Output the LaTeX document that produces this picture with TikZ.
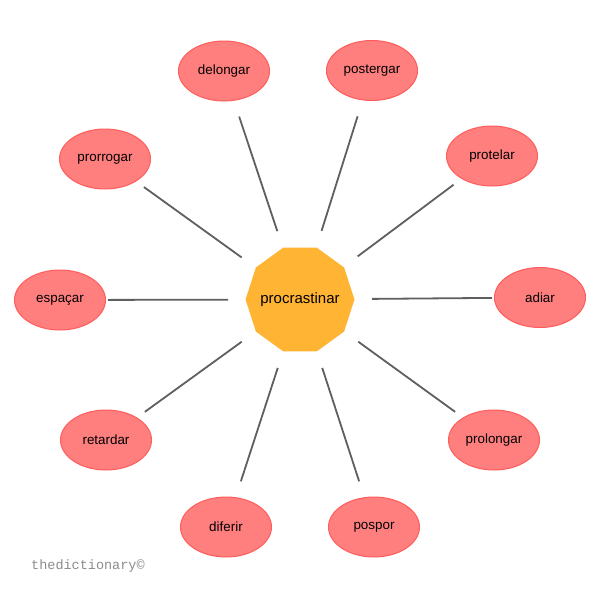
\documentclass[tikz,border=0pt]{standalone}
\usepackage{fontspec}
\setmainfont{Liberation Sans}
\newfontfamily\wmfont{Liberation Mono}
\usetikzlibrary{shapes.geometric}
\definecolor{leafFill}{HTML}{FF7F7F}
\definecolor{leafDraw}{HTML}{FF5C5C}
\definecolor{hubFill}{HTML}{FFB533}
\definecolor{linkCol}{HTML}{5F5F5F}
\definecolor{wmCol}{HTML}{8C8C8C}
\tikzset{
  leaf/.style={ellipse, fill=leafFill, draw=leafDraw, line width=1pt,
    minimum width=91pt, minimum height=60pt, inner sep=0pt,
    font=\fontsize{13.4pt}{15pt}\selectfont, text=black},
  hub/.style={regular polygon, regular polygon sides=10,
    fill=hubFill, draw=none, minimum size=109pt, inner sep=0pt},
  hubtext/.style={font=\fontsize{15pt}{17pt}\selectfont, text=black, inner sep=0pt},
  link/.style={draw=linkCol, line width=1.8pt, shorten <=72pt, shorten >=48pt}
}
\begin{document}
\begin{tikzpicture}[x=1pt,y=-1pt]
\useasboundingbox (0,0) rectangle (600,600);
\fill[white] (0,0) rectangle (600,600);
\node[hub] (c) at (300,299.5) {};
\node[hubtext] (ct) at (c.center) {procrastinar};
\node[leaf] (delongar) at (224,71) {delongar};
\node[leaf] (postergar) at (372,70.5) {postergar};
\node[leaf] (prorrogar) at (105,159) {prorrogar};
\node[leaf] (protelar) at (492,156) {protelar};
\node[leaf] (espacar) at (60,300) {espaçar};
\node[leaf] (adiar) at (540,297.5) {adiar};
\node[leaf] (retardar) at (106,440) {retardar};
\node[leaf] (prolongar) at (494,440) {prolongar};
\node[leaf] (diferir) at (226,527) {diferir};
\node[leaf] (pospor) at (374,527) {pospor};
\foreach \n in {delongar,postergar,prorrogar,protelar,espacar,adiar,retardar,prolongar,diferir,pospor}
  \draw[link] (c.center) -- (\n.center);
\node[anchor=west, font=\wmfont\fontsize{13.5pt}{15pt}\selectfont, text=wmCol, inner sep=0pt] (wm) at (31,566) {thedictionary©};
\end{tikzpicture}
\end{document}
